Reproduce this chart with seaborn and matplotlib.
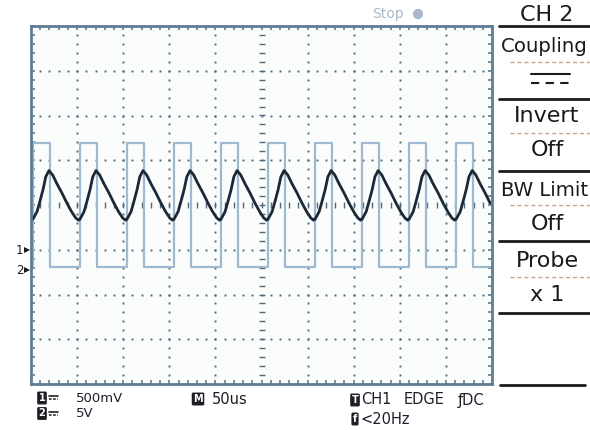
import numpy as np
import pandas as pd
import matplotlib
matplotlib.use("Agg")
import matplotlib.pyplot as plt
import seaborn as sns

ch2_rise = [0.04, 1.06, 2.08, 3.10, 4.12, 5.14, 6.16, 7.18, 8.20, 9.22]
ch2_fall = [0.41, 1.43, 2.45, 3.47, 4.49, 5.51, 6.53, 7.55, 8.57, 9.59]
ch2_high = 5.39
ch2_low = 2.61

# one cycle of CH1, offset from the CH2 rising edge
ch1_dt = [0.00, 0.09, 0.15, 0.22, 0.28, 0.35, 0.43, 0.52, 0.63, 0.74, 0.84, 0.93, 0.99]
ch1_lvl = [3.68, 3.85, 4.07, 4.34, 4.63, 4.77, 4.67, 4.48, 4.27, 4.04, 3.85, 3.71, 3.66]

menu_labels = ["CH 2", "Coupling", "Invert", "Off", "BW Limit", "Off", "Probe", "x 1"]
menu_y = [15, 46, 116, 150, 190, 224, 261, 295]

FRAME = "#5f7d95"
GRID = "#4f6a80"
CH2_COLOR = "#9fb9d0"
CH1_COLOR = "#1c2836"


def square_df():
    t, v = [0.0], [ch2_low]
    for r, f in zip(ch2_rise, ch2_fall):
        t += [r, r, f, f]
        v += [ch2_low, ch2_high, ch2_high, ch2_low]
    t.append(10.0)
    v.append(ch2_low)
    return pd.DataFrame({"t": t, "v": v})


def ch1_df():
    t, v = [], []
    for r in ch2_rise:
        for dt, lv in zip(ch1_dt, ch1_lvl):
            if r + dt <= 10.0:
                t.append(r + dt)
                v.append(lv)
    return pd.DataFrame({"t": t, "v": v})


sns.set_style("white")
plt.rcParams["font.family"] = ["DejaVu Sans"]

fig = plt.figure(figsize=(5.9, 4.3), dpi=100)
fig.patch.set_facecolor("white")

ax = fig.add_axes([31 / 590, 46 / 430, 461 / 590, 358 / 430])
ax.set_xlim(0, 10)
ax.set_ylim(0, 8)
ax.set_facecolor("#fbfdfc")

# dotted graticule
minor = np.arange(0, 10.01, 0.2)
for gx in range(1, 10):
    if gx == 5:
        continue
    ys = np.arange(0, 8.01, 0.2)
    ax.plot(np.full_like(ys, gx), ys, ls="none", marker="s", ms=1.4, color=GRID, mew=0)
for gy in range(1, 8):
    if gy == 4:
        continue
    ax.plot(minor, np.full_like(minor, gy), ls="none", marker="s", ms=1.4, color=GRID, mew=0)
# centre cross with ticks
ys = np.arange(0.2, 7.9, 0.2)
ax.plot(np.full_like(ys, 5), ys, ls="none", marker="_", ms=4, mew=1.0, color=GRID)
ax.plot(minor[1:-1], np.full_like(minor[1:-1], 4), ls="none", marker="|", ms=4, mew=1.0, color=GRID)

# traces
sns.lineplot(data=square_df(), x="t", y="v", sort=False, estimator=None,
             color=CH2_COLOR, lw=1.6, ax=ax)
sns.lineplot(data=ch1_df(), x="t", y="v", sort=False, estimator=None,
             color=CH1_COLOR, lw=2.0, ax=ax)

ax.set_xticks(range(0, 11))
ax.set_yticks(range(0, 9))
ax.set_xticks(np.arange(0, 10.01, 0.2), minor=True)
ax.set_yticks(np.arange(0, 8.01, 0.2), minor=True)
ax.tick_params(which="both", direction="in", top=True, right=True, bottom=True, left=True,
               length=3, width=1.2, color=FRAME, labelbottom=False, labelleft=False)
ax.set_xlabel("")
ax.set_ylabel("")
for sp in ax.spines.values():
    sp.set_color(FRAME)
    sp.set_linewidth(2)

# overlay in pixel units for the scope's menu and status text
ov = fig.add_axes([0, 0, 1, 1], facecolor="none")
ov.set_xlim(0, 590)
ov.set_ylim(430, 0)
ov.axis("off")

for y in [26, 99, 171, 241, 313]:
    ov.plot([499, 590], [y, y], color="#1c1c1c", lw=2)
ov.plot([500, 585], [385, 385], color="#1c1c1c", lw=2)
for y in [62, 133, 205, 277]:
    ov.plot([510, 590], [y, y], color="#c9a493", lw=1, ls=(0, (3, 2)))
# coupling symbol
ov.plot([531, 570], [74, 74], color="#1c1c1c", lw=1.5)
ov.plot([531, 570], [83, 83], color="#1c1c1c", lw=1.5, ls=(0, (4, 3)))

for lab, y in zip(menu_labels, menu_y):
    if len(lab) > 6:
        # the long labels run to the screen edge
        ov.text(588, y, lab, ha="right", va="center", fontsize=14.2, color="#1a1a1a")
    else:
        ov.text(547, y, lab, ha="center", va="center", fontsize=16, color="#1a1a1a")

ov.text(372, 14, "Stop", ha="left", va="center", fontsize=10, color="#a9b9c9")
ov.plot([418], [14], marker="8", ms=8, color="#a9b9c9", mew=0)

# channel ground markers
ov.text(16, 250, "1", ha="left", va="center", fontsize=8.5, color="#1a1a1a")
ov.plot([27], [250], marker=">", ms=4.5, color="#1a1a1a", mew=0)
ov.text(16, 270, "2", ha="left", va="center", fontsize=8.5, color="#1a1a1a")
ov.plot([27], [270], marker=">", ms=4.5, color="#1a1a1a", mew=0)

icon = dict(boxstyle="round,pad=0.15", fc="#1e1e26", ec="none")
txt = "#1e1e2a"


def status(x, y, s, size=10.5):
    ov.text(x, y, s, ha="left", va="center", fontsize=size, color=txt)


def badge(x, y, s):
    ov.text(x, y, s, ha="center", va="center", fontsize=7, weight="bold",
            color="white", bbox=icon)


for y, b, val in [(398, "1", "500mV"), (413.5, "2", "5V")]:
    badge(42, y, b)
    ov.plot([49, 58], [y - 2, y - 2], color=txt, lw=1.2)
    ov.plot([49, 58], [y + 1, y + 1], color=txt, lw=1.2, ls=(0, (1.5, 1)))
    status(76, y, val, size=9.5)

badge(198, 399, "M")
status(212, 399, "50us")
badge(355, 400, "T")
status(361, 400, "CH1")
status(404, 400, "EDGE")
status(458, 400, "ƒDC")
badge(355, 419, "f")
status(360, 419, "<20Hz")

fig.savefig("out.png", dpi=100)
